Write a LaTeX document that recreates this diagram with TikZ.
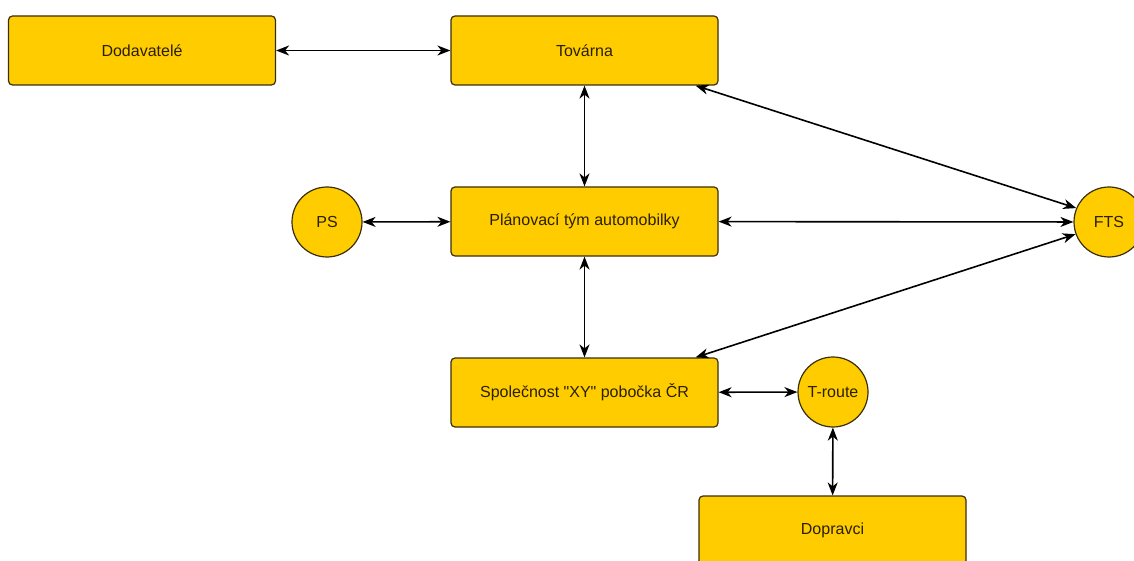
\documentclass[tikz,border=0pt]{standalone}
\usepackage{fontspec}
\setmainfont{Liberation Sans}[Ligatures=TeXOff]
\usetikzlibrary{arrows.meta}
\definecolor{boxfill}{HTML}{FFCC00}
\definecolor{boxline}{HTML}{3A2E0A}
\definecolor{labeltext}{HTML}{2A2000}
\begin{document}
\begin{tikzpicture}[x=1pt,y=-1pt,
  every node/.style={font=\fontsize{16}{19}\selectfont, text=labeltext},
  unit/.style={draw=boxline, fill=boxfill, line width=1.2pt, rounded corners=4pt,
    minimum width=267pt, minimum height=69pt, inner sep=0pt},
  actor/.style={draw=boxline, fill=boxfill, line width=1.2pt, circle,
    minimum size=70pt, inner sep=0pt},
  link/.style={{Stealth[length=13pt,width=10pt,inset=4pt]}-{Stealth[length=13pt,width=10pt,inset=4pt]},
    line width=1.6pt, black}]
\clip (0,0) rectangle (1134,561);

% boxes
\node[unit] (dod) at (142,50.5) {Dodavatelé};
\node[unit] (tov) at (584.5,50.5) {Továrna};
\node[unit] (plan) at (584.5,221.5) {Plánovací tým automobilky};
\node[unit] (spol) at (584.5,392.5) {Společnost "XY" pobočka ČR};
\node[unit] (dop) at (832.5,530.5) {Dopravci};

% circles
\node[actor] (ps) at (327,222) {PS};
\node[actor] (fts) at (1109,222) {FTS};
\node[actor] (tr) at (833,392) {T-route};

% connectors
\draw[link] (dod) -- (tov);
\draw[link] (tov) -- (plan);
\draw[link] (plan) -- (spol);
\draw[link] (ps) -- (plan);
\draw[link] (plan) -- (fts);
\draw[link] ([xshift=-23pt]tov.south east) -- (fts.157);
\draw[link] ([xshift=-23pt]spol.north east) -- (fts.200);
\draw[link] (spol) -- (tr);
\draw[link] (tr) -- (dop);
\end{tikzpicture}
\end{document}
